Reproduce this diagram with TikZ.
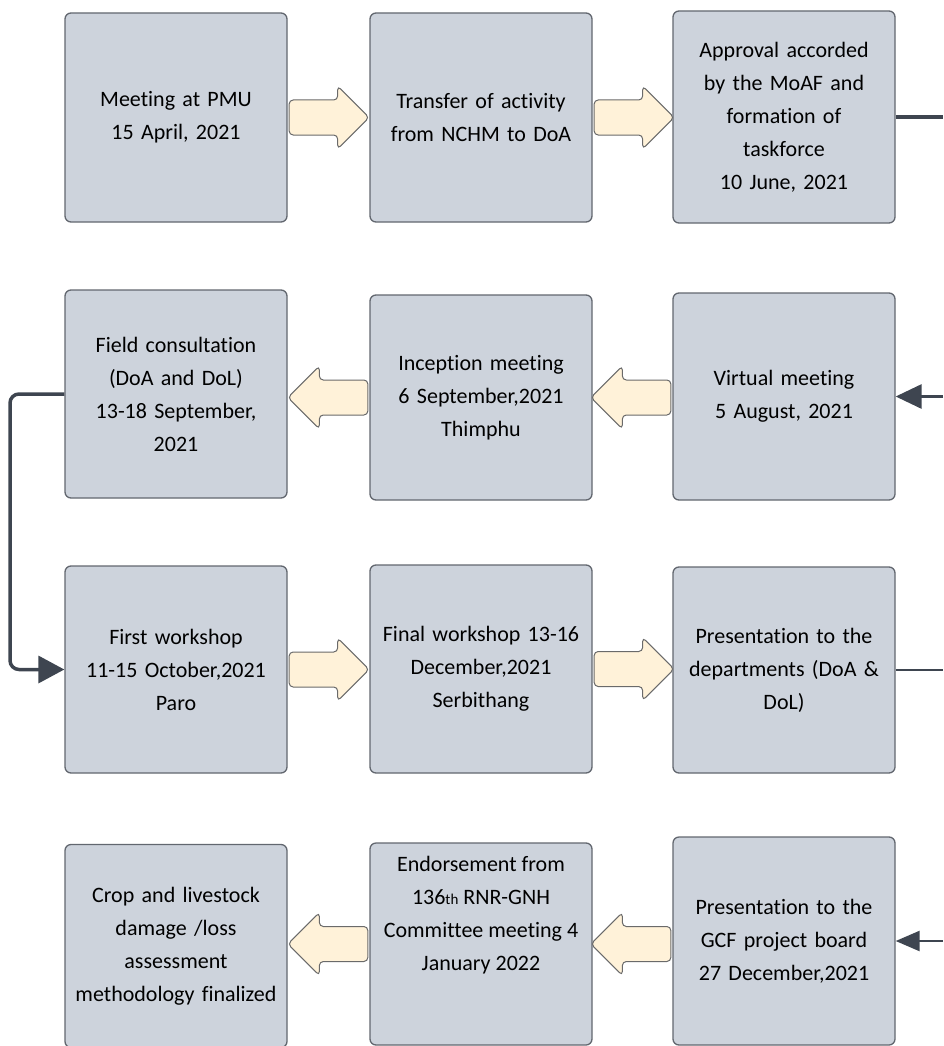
\documentclass[tikz,border=0pt]{standalone}
\usepackage{fontspec}
\setmainfont{Carlito}[Ligatures={NoCommon}]
\usetikzlibrary{arrows.meta,shapes.arrows,calc}
\definecolor{boxfill}{HTML}{CDD3DC}
\definecolor{boxline}{HTML}{62676F}
\definecolor{arrfill}{HTML}{FFF2D9}
\definecolor{arrline}{HTML}{6A6A6A}
\definecolor{conn}{HTML}{3E4550}
\begin{document}
\begin{tikzpicture}[x=1pt,y=-1pt,
  box/.style={draw=boxline, line width=1.3pt, fill=boxfill, rounded corners=6pt,
    minimum width=222pt, inner sep=0pt, align=center, text width=212pt,
    font=\fontsize{22}{33}\selectfont},
  blockarr/.style={single arrow, draw=arrline, line width=1pt, fill=arrfill,
    rounded corners=4pt, minimum height=80pt, inner xsep=0pt, inner ysep=17pt,
    single arrow head extend=14pt, single arrow head indent=0pt, anchor=tail},
  leftarr/.style={blockarr, shape border rotate=180},
  conline/.style={draw=conn, line cap=butt},
  tip/.style={-{Triangle[length=26pt,width=24pt]}}
]
\useasboundingbox (0,0) rectangle (943,1046);
% row 1
\node[box, minimum height=209pt] (b1) at (176,117.5) {Meeting at PMU\\15 April, 2021};
\node[box, minimum height=209pt] (b2) at (481,117.5) {Transfer of activity\\from NCHM to DoA};
\node[box, minimum height=212pt] (b3) at (784,117) {Approval accorded\\by the MoAF and\\formation of\\taskforce\\10 June, 2021};
% row 2
\node[box, minimum height=208pt] (b4) at (176,394) {Field consultation\\(DoA and DoL)\\13-18 September,\\2021};
\node[box, minimum height=205pt] (b5) at (481,397.5) {Inception meeting\\6 September,2021\\Thimphu};
\node[box, minimum height=207pt] (b6) at (784,396.5) {Virtual meeting\\5 August, 2021};
% row 3
\node[box, minimum height=207pt] (b7) at (176,669.5) {First workshop\\11-15 October,2021\\Paro};
\node[box, minimum height=208pt] (b8) at (481,669) {Final workshop 13-16\\December,2021\\Serbithang};
\node[box, minimum height=206pt] (b9) at (784,670) {Presentation to the\\departments (DoA \&\\DoL)};
% row 4
\node[box, minimum height=203pt] (b10) at (176,946) {Crop and livestock\\damage /loss\\assessment\\methodology finalized};
\node[box, minimum height=202pt] (b11) at (481,944) {};
\node[align=center, font=\fontsize{22}{33}\selectfont, inner sep=0pt] (t11) at (481,915) {Endorsement from\\136{\fontsize{15}{15}\selectfont th} RNR-GNH\\Committee meeting 4\\January 2022};
\node[box, minimum height=208pt] (b12) at (784,941) {Presentation to the\\GCF project board\\27 December,2021};
% block arrows
\node[blockarr] (a12) at ($(b1.east)+(1,0)$) {};
\node[blockarr] (a23) at ($(b2.east)+(1,0)$) {};
\node[leftarr] (a65) at ($(b6.west |- b5.east)+(-1,0)$) {};
\node[leftarr] (a54) at ($(b5.west)+(-1,0)$) {};
\node[blockarr] (a78) at ($(b7.east)+(1,0)$) {};
\node[blockarr] (a89) at ($(b8.east)+(1,0)$) {};
\node[leftarr] (a1211) at ($(b12.west |- b11.east)+(-1,0)$) {};
\node[leftarr] (a1110) at ($(b11.west)+(-1,0)$) {};
% connectors
\coordinate (r1) at (943,117);
\coordinate (r2) at (943,396.5);
\coordinate (r3) at (943,670);
\coordinate (r4) at (943,941);
\coordinate (l1) at (10,394);
\coordinate (l2) at (10,669.5);
\draw[conline, line width=4pt] (b3.east) -- (r1);
\draw[conline, line width=3pt, tip] (r2) -- (b6.east);
\draw[conline, line width=1.5pt] (b9.east) -- (r3);
\draw[conline, line width=2.5pt, -{Triangle[length=24pt,width=20pt]}] (r4) -- (b12.east);
\draw[conline, line width=3.5pt, rounded corners=9pt, -{Triangle[length=26pt,width=27pt]}] (b4.west) -- (l1) -- (l2) -- (b7.west);
\end{tikzpicture}
\end{document}
